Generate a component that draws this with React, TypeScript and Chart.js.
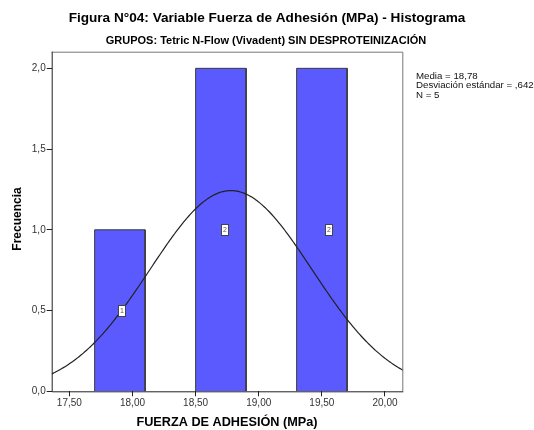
import React, { useEffect, useRef } from "react";
import { Chart, registerables } from "chart.js";
Chart.register(...registerables);

const TITLE = "Figura N°04: Variable Fuerza de Adhesión (MPa) - Histograma";
const SUBTITLE = "GRUPOS: Tetric N-Flow (Vivadent) SIN DESPROTEINIZACIÓN";
const X_TITLE = "FUERZA DE ADHESIÓN (MPa)";
const Y_TITLE = "Frecuencia";
const BIN_START = [17.7, 18.5, 19.3];
const BIN_END = [18.1, 18.9, 19.7];
const COUNTS = [1, 2, 2];
const LABEL_X = [17.915, 18.734, 19.558];
const X_TICKS = [17.5, 18.0, 18.5, 19.0, 19.5, 20.0];
const Y_TICKS = [0, 0.5, 1.0, 1.5, 2.0];
const MEAN = 18.78;
const SD = 0.642;
const N = 5;
const BIN_WIDTH = 0.4;
const STATS = ["Media = 18,78", "Desviación estándar = ,642", "N = 5"];
const X_MIN = 17.36;
const X_MAX = 20.145;
const Y_MAX = 2.103;

const fmt = (v: number, d: number) => v.toFixed(d).replace(".", ",");

export default function App() {
  const ref = useRef<HTMLCanvasElement>(null);
  useEffect(() => {
    document.body.style.margin = "0";
    const ctx = ref.current!.getContext("2d")!;
    const barSets = BIN_START.map((s, i) => ({
      type: "line" as const,
      order: 2,
      data: [
        { x: s, y: 0 },
        { x: s, y: COUNTS[i] },
        { x: BIN_END[i], y: COUNTS[i] },
        { x: BIN_END[i], y: 0 },
      ],
      borderColor: "#3a3a3a",
      borderWidth: 1,
      backgroundColor: "#5a5aff",
      fill: "origin",
      pointRadius: 0,
      tension: 0,
    }));
    const curve: { x: number; y: number }[] = [];
    for (let k = 0; k <= 300; k++) {
      const x = X_MIN + ((X_MAX - X_MIN) * k) / 300;
      const z = (x - MEAN) / SD;
      curve.push({ x, y: (N * BIN_WIDTH * Math.exp(-0.5 * z * z)) / (SD * Math.sqrt(2 * Math.PI)) });
    }
    const font = "Arial, 'Liberation Sans', sans-serif";
    const overlay = {
      id: "overlay",
      afterDraw(chart: any) {
        const c = chart.ctx;
        const a = chart.chartArea;
        const xs = chart.scales.x;
        const ys = chart.scales.y;
        c.save();
        // labels in bars
        COUNTS.forEach((n, i) => {
          const px = Math.round(xs.getPixelForValue(LABEL_X[i]));
          const py = Math.round(ys.getPixelForValue(n / 2));
          c.fillStyle = "#ffffff";
          c.fillRect(px - 4, py - 6, 8, 12);
          c.strokeStyle = "#444";
          c.lineWidth = 1;
          c.strokeRect(px - 3.5, py - 5.5, 7, 11);
          c.fillStyle = "#555";
          c.font = `7px ${font}`;
          c.textAlign = "center";
          c.textBaseline = "middle";
          c.fillText(String(n), px, py + 0.5);
        });
        // frame
        c.strokeStyle = "#777";
        c.beginPath();
        c.moveTo(a.left, a.top + 0.5);
        c.lineTo(a.right - 0.5, a.top + 0.5);
        c.lineTo(a.right - 0.5, a.bottom);
        c.stroke();
        c.strokeStyle = "#222";
        c.beginPath();
        c.moveTo(a.left + 0.5, a.top);
        c.lineTo(a.left + 0.5, a.bottom + 0.5);
        c.lineTo(a.right, a.bottom + 0.5);
        c.stroke();
        // titles
        c.fillStyle = "#000";
        c.textAlign = "center";
        c.textBaseline = "middle";
        c.font = `bold 13.6px ${font}`;
        c.fillText(TITLE, 267, 18);
        c.font = `bold 11px ${font}`;
        c.fillText(SUBTITLE, 266, 41);
        c.font = `bold 12.7px ${font}`;
        c.fillText(X_TITLE, 227, 422);
        c.save();
        c.translate(18, 219);
        c.rotate(-Math.PI / 2);
        c.font = `bold 12px ${font}`;
        c.fillText(Y_TITLE, 0, 0);
        c.restore();
        c.font = `9.7px ${font}`;
        c.textAlign = "left";
        c.textBaseline = "alphabetic";
        c.fillStyle = "#111";
        STATS.forEach((s, i) => c.fillText(s, 416, 79 + i * 9.3));
        c.restore();
      },
    };
    const chart = new Chart(ctx, {
      type: "line",
      data: {
        datasets: [
          ...barSets,
          {
            type: "line" as const,
            order: 0,
            data: curve,
            borderColor: "#222",
            borderWidth: 1.2,
            pointRadius: 0,
            fill: false,
            tension: 0,
          },
        ] as any,
      },
      plugins: [overlay],
      options: {
        animation: false,
        responsive: false,
        devicePixelRatio: 1,
        layout: { padding: { top: 51.7, right: 130.7, left: 0, bottom: 0 } },
        plugins: { legend: { display: false }, tooltip: { enabled: false } },
        scales: {
          x: {
            type: "linear",
            min: X_MIN,
            max: X_MAX,
            afterBuildTicks: (s: any) => {
              s.ticks = X_TICKS.map((v) => ({ value: v }));
            },
            afterFit: (s: any) => {
              s.height = 430 - 391.3;
            },
            border: { display: false },
            grid: { drawOnChartArea: false, tickLength: 5, color: "#222" },
            ticks: {
              padding: 1,
              color: "#333",
              font: { family: font, size: 10 },
              callback: (v: any) => fmt(Number(v), 2),
              maxRotation: 0,
              autoSkip: false,
            },
          },
          y: {
            type: "linear",
            min: 0,
            max: Y_MAX,
            afterBuildTicks: (s: any) => {
              s.ticks = Y_TICKS.map((v) => ({ value: v }));
            },
            afterFit: (s: any) => {
              s.width = 51.7;
            },
            border: { display: false },
            grid: { drawOnChartArea: false, tickLength: 5, color: "#222" },
            ticks: {
              padding: 1,
              color: "#333",
              font: { family: font, size: 10 },
              callback: (v: any) => fmt(Number(v), 1),
              autoSkip: false,
            },
          },
        },
      },
    });
    return () => chart.destroy();
  }, []);
  return (
    <div style={{ position: "absolute", left: 0, top: 0, width: 534, height: 430, background: "#fff" }}>
      <canvas ref={ref} width={534} height={430} style={{ width: 534, height: 430 }} />
    </div>
  );
}
